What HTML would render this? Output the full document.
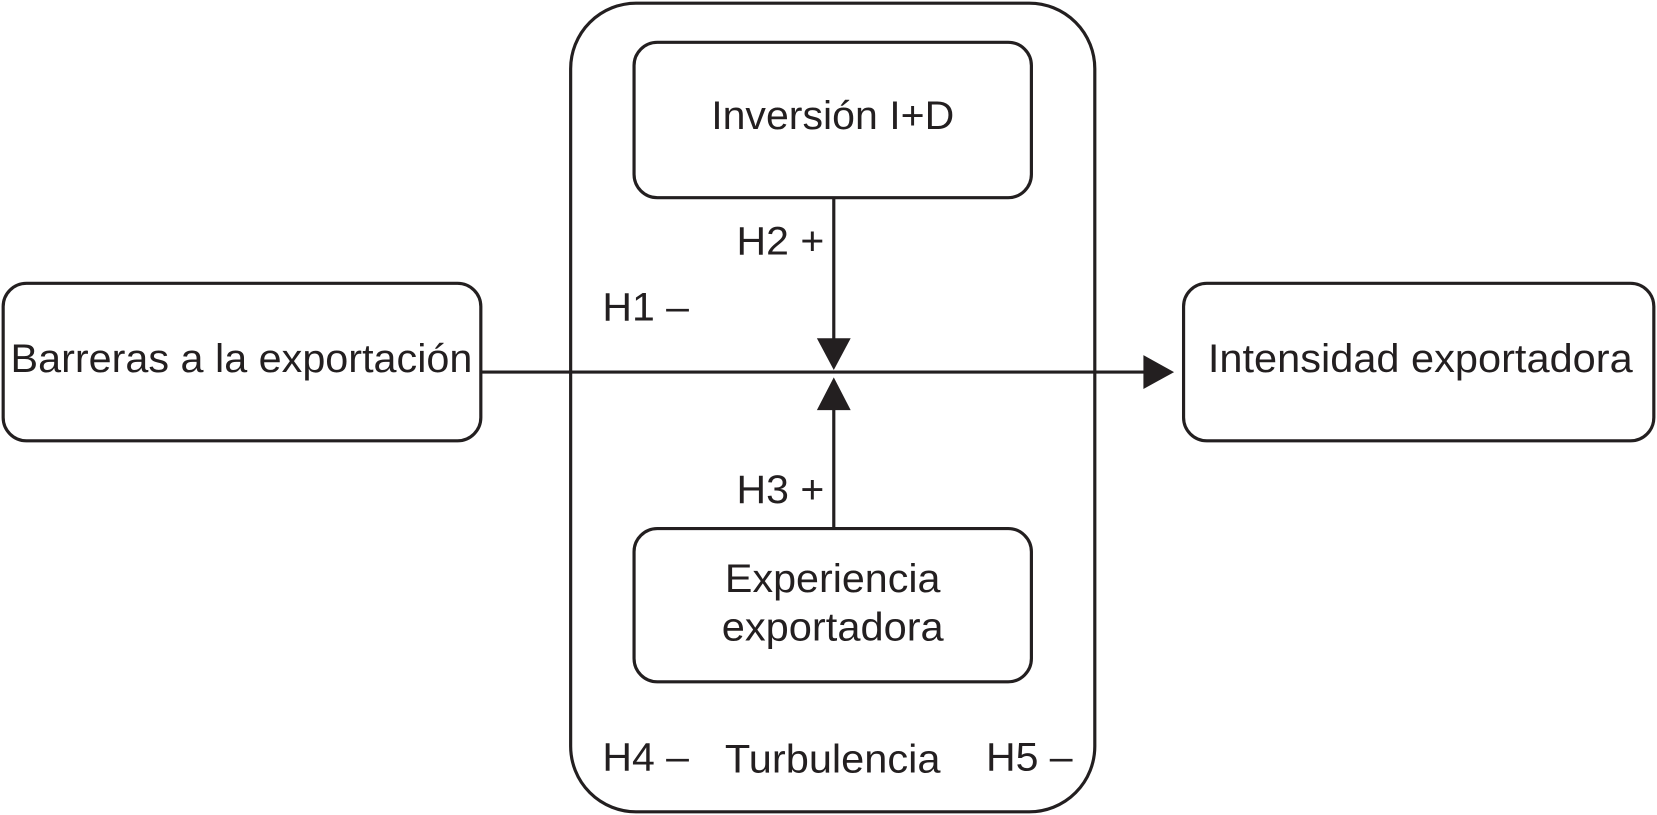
<!DOCTYPE html>
<html><head><meta charset="utf-8"><style>
html,body{margin:0;padding:0;background:#fff;}
svg{display:block;}
text{font-family:"Liberation Sans",sans-serif;font-size:38px;fill:#231f20;}
</style></head><body>
<svg width="1657" height="815" viewBox="0 0 1568 771" preserveAspectRatio="none" xmlns="http://www.w3.org/2000/svg">
<g fill="none" stroke="#231f20" stroke-width="3">
<rect x="540" y="3" width="496" height="765" rx="62"/>
<rect x="600" y="40" width="376" height="147" rx="22"/>
<rect x="600" y="500" width="376" height="145" rx="22"/>
<rect x="3" y="268" width="452" height="149" rx="22"/>
<rect x="1120" y="268" width="445" height="149" rx="22"/>
<line x1="455" y1="352" x2="1086" y2="352"/>
<line x1="789" y1="187" x2="789" y2="322"/>
<line x1="789" y1="386" x2="789" y2="500"/>
</g>
<g fill="#231f20">
<polygon points="1082,336 1111,352 1082,368"/>
<polygon points="773,320 805,320 789,350"/>
<polygon points="773,388 805,388 789,357"/>
</g>
<g lengthAdjust="spacingAndGlyphs">
<text x="673" y="122" textLength="230" lengthAdjust="spacingAndGlyphs">Inversión I+D</text>
<text x="10" y="352" textLength="437" lengthAdjust="spacingAndGlyphs">Barreras a la exportación</text>
<text x="1143" y="352" textLength="402" lengthAdjust="spacingAndGlyphs">Intensidad exportadora</text>
<text x="686" y="560" textLength="204" lengthAdjust="spacingAndGlyphs">Experiencia</text>
<text x="683" y="606" textLength="210" lengthAdjust="spacingAndGlyphs">exportadora</text>
<text x="686" y="731" textLength="204" lengthAdjust="spacingAndGlyphs">Turbulencia</text>
<text x="697" y="241" textLength="83" lengthAdjust="spacingAndGlyphs">H2 +</text>
<text x="697" y="476" textLength="83" lengthAdjust="spacingAndGlyphs">H3 +</text>
<text x="570" y="303" textLength="82" lengthAdjust="spacingAndGlyphs">H1 –</text>
<text x="570" y="729" textLength="82" lengthAdjust="spacingAndGlyphs">H4 –</text>
<text x="933" y="729" textLength="82" lengthAdjust="spacingAndGlyphs">H5 –</text>
</g>
</svg>
</body></html>
